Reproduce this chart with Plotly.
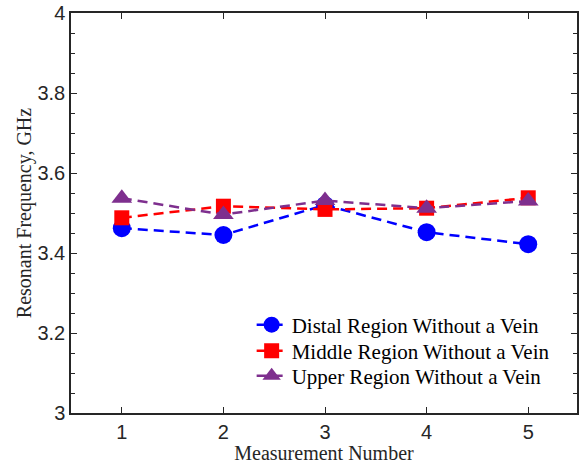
import plotly.graph_objects as go

measurements = [1, 2, 3, 4, 5]
distal = [3.462, 3.445, 3.520, 3.452, 3.422]
middle = [3.488, 3.517, 3.509, 3.512, 3.538]
upper = [3.537, 3.496, 3.531, 3.512, 3.530]
series_names = ["Distal Region Without a Vein", "Middle Region Without a Vein", "Upper Region Without a Vein"]
y_ticks = [3, 3.2, 3.4, 3.6, 3.8, 4]

SERIF = "Liberation Serif"
SANS = "Liberation Sans"

fig = go.Figure()
styles = [("#0000FF", "circle", 18), ("#FF0000", "square", 15), ("#7E2F8E", "triangle-up", 18)]
legend_ids = ["legend", "legend2", "legend3"]
for name, vals, (col, sym, sz), lid in zip(series_names, [distal, middle, upper], styles, legend_ids):
    fig.add_trace(go.Scatter(
        x=measurements, y=vals, name=name, mode="lines+markers",
        line=dict(color=col, width=2.5, dash="10px,6px"),
        marker=dict(color=col, symbol=sym, size=sz, line=dict(width=0)),
        legend=lid, showlegend=True,
    ))

axis_common = dict(
    showline=True, linecolor="#262626", linewidth=1.5, mirror="ticks",
    ticks="inside", ticklen=6, tickwidth=1.3, tickcolor="#262626",
    showgrid=False, zeroline=False, automargin=False,
    tickfont=dict(family=SANS, size=20, color="#262626"),
)
fig.update_xaxes(
    range=[0.5, 5.48], tickvals=measurements, ticktext=[str(m) for m in measurements],
    title=dict(text="Measurement Number", font=dict(family=SERIF, size=20, color="#262626"), standoff=0),
    **axis_common,
)
fig.update_yaxes(
    range=[3, 4], tickvals=y_ticks, ticktext=[f"{v:g}" for v in y_ticks],
    minor=dict(dtick=0.05, ticks="inside", ticklen=4, tickcolor="#262626", tickwidth=1.3),
    title=dict(text="Resonant Frequency, GHz", font=dict(family=SERIF, size=20, color="#262626"), standoff=0),
    **axis_common,
)

def leg(y):
    return dict(
        x=0.357, y=y, xanchor="left", yanchor="middle",
        font=dict(family=SERIF, size=21, color="#000000"),
        bgcolor="rgba(255,255,255,0)", itemwidth=30, visible=True,
    )

fig.update_layout(
    width=583, height=464,
    margin=dict(l=71, r=6, t=13, b=51),
    paper_bgcolor="white", plot_bgcolor="white",
    font=dict(family=SERIF),
    showlegend=True,
    legend=leg(0.22), legend2=leg(0.155), legend3=leg(0.0925),
)
fig.write_html("out.html", config={"displayModeBar": False},
               post_script="document.body.style.margin='0';")
